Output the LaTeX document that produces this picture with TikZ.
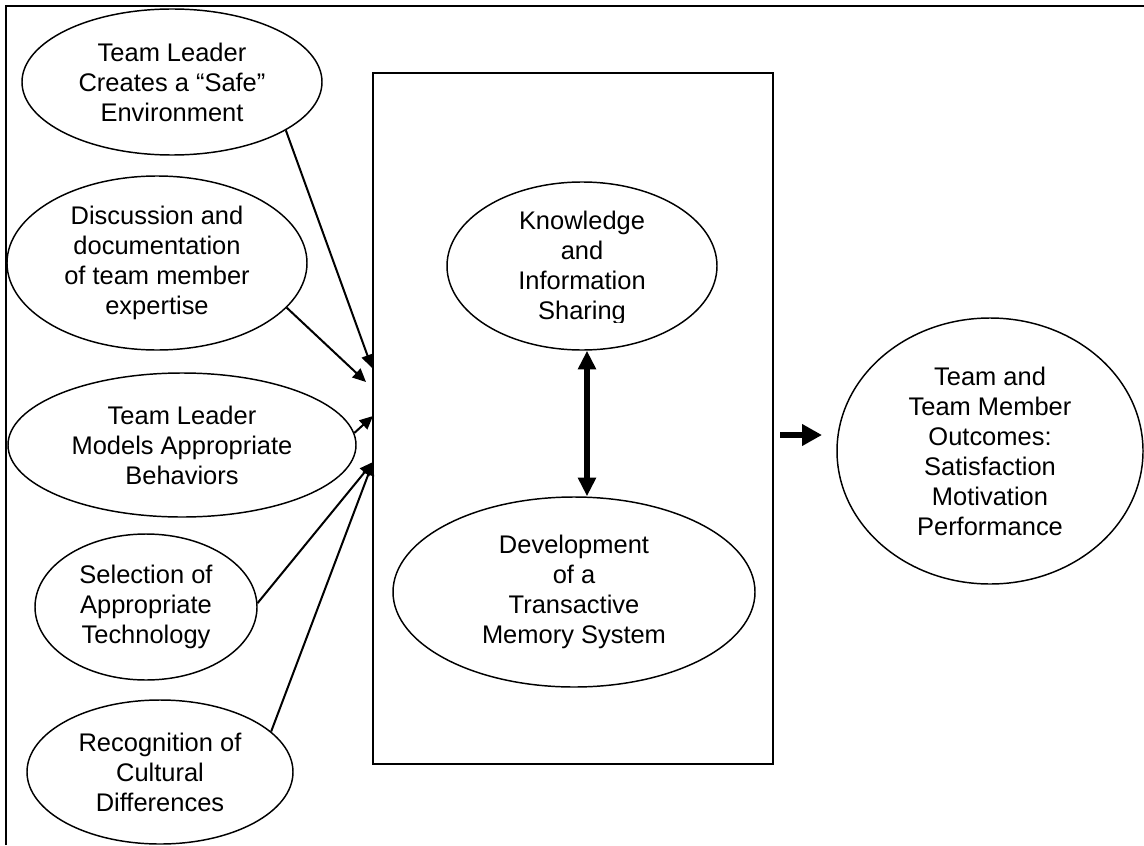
\documentclass[tikz,border=0pt]{standalone}
\usepackage{fontspec}
\setmainfont{Liberation Sans}
\usetikzlibrary{arrows.meta,shapes.geometric}

\tikzset{
  bodytext/.style={align=center, inner sep=0pt,
    font=\fontsize{19.1pt}{22.5pt}\selectfont},
  % ellipse given by its half axes in pixel units (1 unit = 0.75pt)
  oval/.style 2 args={ellipse, draw, line width=1.1pt, bodytext,
    minimum width=#1*1.5pt, minimum height=#2*1.5pt},
  panel/.style={draw, line width=1.5pt, inner sep=0pt},
  feed/.style={line width=1.5pt, -{Triangle[length=10pt,width=9pt]}},
  link/.style={line width=4.1pt,
    {Triangle[length=14pt,width=13pt]}-{Triangle[length=14pt,width=13pt]}},
  push/.style={line width=5.2pt, -{Triangle[length=15pt,width=15.5pt]}}
}

\begin{document}
\begin{tikzpicture}[x=0.75pt,y=-0.75pt]
\useasboundingbox (0,0) rectangle (1144,845);

% outer frame (top and left edges)
\draw[line width=1.9pt] (6,845) -- (6,6) -- (1144,6);

% antecedents
\node[oval={150}{73}] (safe)  at (172,82)  {Team Leader\\Creates a “Safe”\\Environment};
\node[oval={150}{87}] (disc)  at (157,263) {Discussion and\\documentation\\of team member\\expertise};
\node[oval={174}{72}] (model) at (182,445) {Team Leader\\Models Appropriate\\Behaviors};
\node[oval={111}{73}] (tech)  at (146,607) {Selection of\\Appropriate\\Technology};
\node[oval={133}{72}] (cult)  at (160,772) {Recognition of\\Cultural\\Differences};

% central process box
\node[panel, minimum width=400*0.75pt, minimum height=691*0.75pt] (box) at (573,418.5) {};

\node[oval={135}{84}] (share) at (582,266) {};
\begin{scope}
  \clip (440,170) rectangle (730,322);
  \node[bodytext] (sharetext) at (582,268) {Knowledge\\and\\Information\\Sharing};
\end{scope}
\node[oval={181}{95}] (tms) at (574,592) {Development\\of a\\Transactive\\Memory System};

% outcomes
\node[oval={153}{133}] (outc) at (990,451) {Team and\\Team Member\\Outcomes:\\Satisfaction\\Motivation\\Performance};

% arrow ends on the left side of the box
\coordinate (t1) at (372,368);
\coordinate (t2) at (366,382);
\coordinate (t3) at (373,416);
\coordinate (t4) at (373,462);

\draw[feed] (safe.-23) -- (t1);
\draw[feed] (disc.-19) -- (t2);
\draw[feed] (model.4) -- (t3);
\draw[feed] (tech.2)  -- (t4);
\draw[feed] (cult.20) -- (t4);

% mutual influence inside the box
\draw[link] ([xshift=3.75pt]share.south) -- ([xshift=3.75pt]share.south |- tms.north);

% box leads to outcomes
\coordinate (r0) at (780,435);
\coordinate (r1) at (822,435);
\draw[push] (r0) -- (r1);
\end{tikzpicture}
\end{document}
